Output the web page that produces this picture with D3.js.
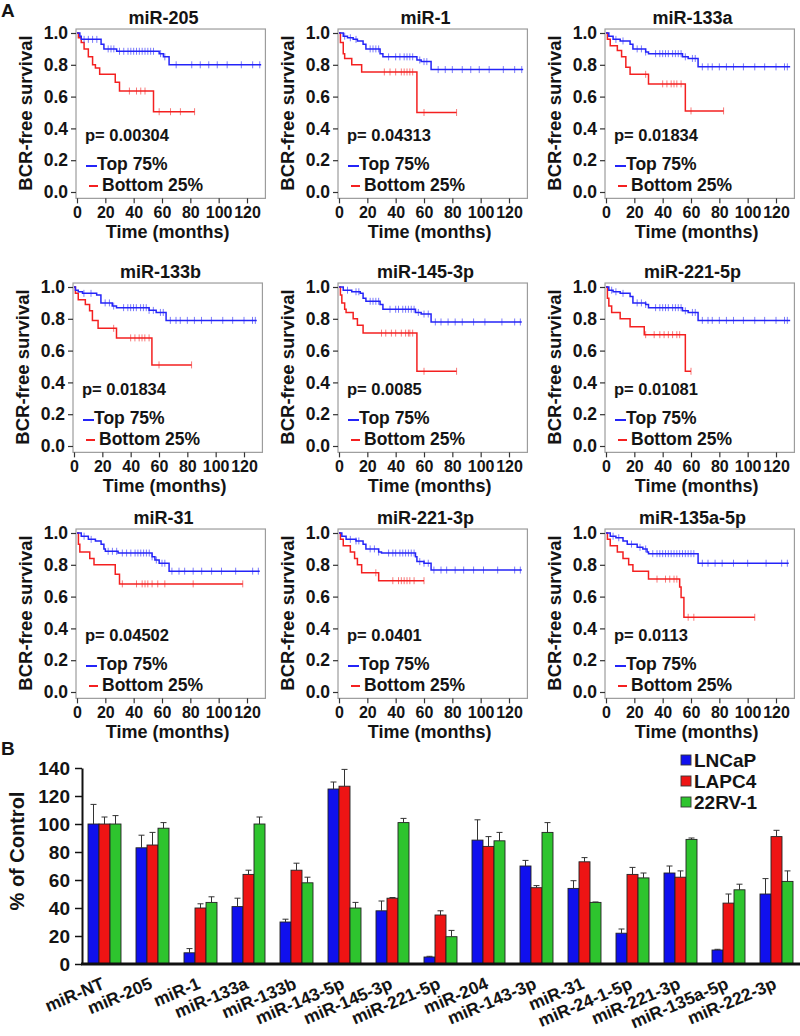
<!DOCTYPE html>
<html><head><meta charset="utf-8">
<script src="https://cdn.jsdelivr.net/npm/d3@7"></script>
<style>
body{margin:0;background:#fff}
text{font-family:"Liberation Sans",Arial,Helvetica,sans-serif;font-weight:bold;fill:#141414}
</style>
</head><body>
<svg id="chart" width="800" height="1036"></svg>
<script>
// ---------- Panel A data ----------
const kmTitles = ["miR-205","miR-1","miR-133a","miR-133b","miR-145-3p","miR-221-5p","miR-31","miR-221-3p","miR-135a-5p"];
const pValues = ["0.00304","0.04313","0.01834","0.01834","0.0085","0.01081","0.04502","0.0401","0.0113"];
const timeTicks = [0,20,40,60,80,100,120];
const survTicks = [0,0.2,0.4,0.6,0.8,1.0];

// step curves: [time, survival after step]; censor times
const top205 = [[0,1],[2,0.98],[3,0.96],[17,0.93],[19,0.90],[28,0.885],[58,0.87],[61,0.85],[65,0.80],[130,0.80]];
const topCens205 = [5,8,11,14,22,24,26,30,33,36,38,40,42,44,46,48,50,52,54,59,62,70,81,87,93,99,106,116,124,129];
const bot205 = [[0,1],[1,0.97],[3,0.94],[5,0.90],[8,0.85],[11,0.80],[13,0.78],[16,0.74],[27,0.69],[30,0.635],[54,0.505],[83,0.505]];
const botCens205 = [37,42,45,48,58,66,73,83];

const top1 = [[0,1],[3,0.98],[6,0.97],[10,0.96],[13,0.95],[17,0.93],[19,0.90],[29,0.87],[31,0.85],[55,0.83],[58,0.82],[65,0.77],[130,0.77]];
const topCens1 = [4,8,12,22,24,26,28,35,40,43,46,48,50,52,57,60,62,70,75,80,87,93,99,106,116,124,129];
const bot1 = [[0,1],[1,0.94],[3,0.87],[4,0.84],[9,0.80],[16,0.755],[55,0.50],[83,0.50]];
const botCens1 = [32,36,40,44,46,48,50,52,60,83];

const top133a = [[0,1],[2,0.98],[5,0.96],[10,0.95],[17,0.93],[19,0.90],[28,0.88],[30,0.87],[54,0.85],[58,0.84],[65,0.787],[130,0.787]];
const topCens133a = [7,12,22,25,28,35,38,40,42,44,47,49,51,53,56,61,63,68,72,75,80,85,90,97,105,112,120,126,128];
const bot133a = [[0,1],[1,0.96],[3,0.92],[8,0.89],[11,0.85],[14,0.785],[17,0.74],[30,0.68],[56,0.51],[83,0.51]];
const botCens133a = [28,40,43,46,48,50,53,60,83];

const top133b = [[0,1],[1,0.98],[3,0.97],[6,0.96],[16,0.95],[19,0.90],[27,0.88],[30,0.87],[53,0.853],[58,0.84],[65,0.79],[129,0.79]];
const topCens133b = [7,12,22,25,28,35,38,40,42,44,47,49,51,53,56,61,63,68,72,75,80,85,90,97,105,112,120,126,128];
const bot133b = [[0,1],[1,0.96],[3,0.92],[8,0.89],[11,0.85],[13,0.79],[17,0.74],[30,0.68],[55,0.51],[83,0.51]];
const botCens133b = [28,40,43,46,48,50,53,60,83];

const top145 = [[0,1],[3,0.98],[9,0.97],[15,0.96],[17,0.93],[19,0.91],[29,0.89],[31,0.86],[54,0.84],[58,0.83],[65,0.78],[129,0.78]];
const topCens145 = [6,12,14,22,24,26,28,36,40,42,45,47,49,51,53,56,60,63,68,72,77,82,87,95,103,115,124,128];
const bot145 = [[0,1],[1,0.95],[2,0.90],[4,0.86],[5,0.84],[10,0.80],[13,0.76],[17,0.71],[55,0.47],[83,0.47]];
const botCens145 = [30,33,37,40,44,47,49,50,52,60,83];

const top221_5p = [[0,1],[2,0.98],[5,0.97],[10,0.96],[17,0.94],[19,0.90],[28,0.89],[30,0.87],[54,0.85],[58,0.84],[65,0.79],[130,0.79]];
const topCens221_5p = [4,7,12,22,25,28,35,38,40,42,44,47,49,51,53,56,61,63,68,72,75,80,85,90,97,105,112,120,126,128];
const bot221_5p = [[0,1],[1,0.93],[2,0.88],[4,0.84],[10,0.80],[17,0.75],[27,0.70],[56,0.47],[60,0.47]];
const botCens221_5p = [28,34,38,41,44,47,50,52,60];

const top31 = [[0,1],[3,0.98],[8,0.96],[13,0.95],[17,0.93],[19,0.90],[20,0.885],[29,0.874],[53,0.85],[55,0.83],[58,0.81],[65,0.76],[129,0.76]];
const topCens31 = [5,10,22,25,28,32,35,38,41,43,45,47,49,51,53,56,60,62,67,72,76,82,88,95,102,112,124,128];
const bot31 = [[0,1],[1,0.93],[2,0.88],[9,0.84],[12,0.80],[27,0.74],[30,0.68],[117,0.68]];
const botCens31 = [32,42,46,48,50,53,57,62,82,117];

const top221_3p = [[0,1],[2,0.98],[5,0.96],[12,0.95],[17,0.93],[19,0.90],[28,0.88],[30,0.874],[54,0.85],[55,0.82],[60,0.81],[65,0.767],[129,0.767]];
const topCens221_3p = [8,12,14,22,25,28,35,38,40,43,45,47,49,51,53,57,60,63,67,72,76,82,88,95,102,112,124,128];
const bot221_3p = [[0,1],[1,0.96],[3,0.92],[8,0.88],[11,0.84],[13,0.80],[16,0.75],[28,0.70],[60,0.70]];
const botCens221_3p = [26,38,42,44,46,48,50,53,60];

const top135 = [[0,1],[3,0.98],[7,0.97],[12,0.95],[15,0.93],[22,0.91],[26,0.90],[29,0.88],[30,0.87],[65,0.81],[129,0.81]];
const topCens135 = [5,9,18,24,28,33,36,38,40,42,44,46,48,50,52,54,56,58,60,62,68,72,77,82,90,100,113,124,128];
const bot135 = [[0,1],[1,0.96],[3,0.92],[8,0.88],[12,0.84],[16,0.80],[19,0.76],[30,0.71],[52,0.66],[53,0.595],[55,0.47],[105,0.47]];
const botCens135 = [36,42,45,48,50,58,62,105];

const topCurves = [top205,top1,top133a,top133b,top145,top221_5p,top31,top221_3p,top135];
const topCensors = [topCens205,topCens1,topCens133a,topCens133b,topCens145,topCens221_5p,topCens31,topCens221_3p,topCens135];
const botCurves = [bot205,bot1,bot133a,bot133b,bot145,bot221_5p,bot31,bot221_3p,bot135];
const botCensors = [botCens205,botCens1,botCens133a,botCens133b,botCens145,botCens221_5p,botCens31,botCens221_3p,botCens135];
const groupNames = ["Top 75%","Bottom 25%"];

// ---------- Panel B data ----------
const mirs = ["miR-NT","miR-205","miR-1","miR-133a","miR-133b","miR-143-5p","miR-145-3p","miR-221-5p","miR-204","miR-143-3p","miR-31","miR-24-1-5p","miR-221-3p","miR-135a-5p","miR-222-3p"];
const cellLines = ["LNCaP","LAPC4","22RV-1"];
const lncap    = [100,83,8,41,30,125,38,5,88.5,70,54,22,65,10,50];
const lncapErr = [14,9,3,6,2,5,7,0.5,14.5,4,5.5,3,5,0.5,11];
const lapc4    = [100,85,40,64,67,127,47,35,84,54.5,73,64,62,43.5,91];
const lapc4Err = [5,9,3,3,5,12,0.5,3,7,1.5,3,5,4.5,6.5,4.5];
const rv1      = [100,97,44,100,58,40,101,19.5,88,94,44,61.5,89,53,59];
const rv1Err   = [6,4,4,5,4,4,3,4.5,6,7,0.3,3.5,1,4,7.5];
const pctTicks = [0,20,40,60,80,100,120,140];

// ---------- drawing ----------
const svg = d3.select("#chart");
const BLUE = "#2424f8", RED = "#f42020";
const colX = [77, 339, 606];
const rowY = [33, 287, 533];

svg.append("text").attr("x",1).attr("y",17).style("font-size","19px").text("A");
svg.append("text").attr("x",1).attr("y",755).style("font-size","19px").text("B");

function survAt(steps, t){
  let s = steps[0][1];
  for (const [tt, ss] of steps){ if (tt <= t) s = ss; }
  return s;
}

kmTitles.forEach((title, i) => {
  const col = i % 3, row = Math.floor(i / 3);
  const x0 = colX[col] + (i === 3 ? -3 : 0);
  const y1 = rowY[row];
  const x = d3.scaleLinear().domain([0,120]).range([x0, x0 + 170]);
  const y = d3.scaleLinear().domain([0,1]).range([y1 + 159, y1]);
  const g = svg.append("g");

  const bx = x(-0.7), by = y(1.025), bw = x(133) - bx, bh = y(-0.04) - by;
  g.append("rect").attr("x",bx).attr("y",by).attr("width",bw).attr("height",bh)
    .attr("fill","none").attr("stroke","#9c9c9c").attr("stroke-width",1.2);

  const ya = g.append("g").attr("transform",`translate(${bx},0)`)
    .call(d3.axisLeft(y).tickValues(survTicks).tickFormat(d3.format(".1f")).tickSize(5).tickPadding(3));
  ya.select(".domain").remove();
  ya.selectAll("line").attr("stroke","#333").attr("stroke-width",1.2);
  ya.selectAll("text").style("font-size","17.5px").attr("fill","#141414");

  const xa = g.append("g").attr("transform",`translate(0,${by+bh})`)
    .call(d3.axisBottom(x).tickValues(timeTicks).tickSize(5).tickPadding(3));
  xa.select(".domain").remove();
  xa.selectAll("line").attr("stroke","#333").attr("stroke-width",1.2);
  xa.selectAll("text").style("font-size","16px").attr("fill","#141414");

  g.append("text").attr("x",x(61)).attr("y",y1-9).attr("text-anchor","middle")
    .style("font-size","18px").text(title);
  g.append("text").attr("x",x(64)).attr("y",y1+205).attr("text-anchor","middle")
    .style("font-size","18px").text("Time (months)");
  g.append("text").attr("transform",`translate(${x0-51},${y1+80}) rotate(-90)`)
    .attr("text-anchor","middle").attr("dy","0.35em").style("font-size","18.5px").text("BCR-free survival");

  const line = d3.line().x(d => x(d[0])).y(d => y(d[1])).curve(d3.curveStepAfter);
  [[botCurves[i], botCensors[i], RED], [topCurves[i], topCensors[i], BLUE]].forEach(([steps, cens, colr]) => {
    g.append("path").attr("d", line(steps)).attr("fill","none").attr("stroke",colr).attr("stroke-width",1.5);
    g.selectAll(null).data(cens).enter().append("line")
      .attr("x1", d => x(d)).attr("x2", d => x(d))
      .attr("y1", d => y(survAt(steps, d)) - 3.5).attr("y2", d => y(survAt(steps, d)) + 3.5)
      .attr("stroke", colr).attr("stroke-opacity",0.6).attr("stroke-width",1);
  });

  g.append("text").attr("x",x0+8).attr("y",y1+108).style("font-size","16.5px").text("p= " + pValues[i]);
  g.append("line").attr("x1",x0+9).attr("x2",x0+20).attr("y1",y1+133).attr("y2",y1+133)
    .attr("stroke",BLUE).attr("stroke-width",2);
  g.append("text").attr("x",x0+20).attr("y",y1+137).style("font-size","17.5px").text(groupNames[0]);
  g.append("line").attr("x1",x0+12).attr("x2",x0+21).attr("y1",y1+153).attr("y2",y1+153)
    .attr("stroke",RED).attr("stroke-width",2);
  g.append("text").attr("x",x0+25).attr("y",y1+158).style("font-size","17.5px").text(groupNames[1]);
});

// ---------- Panel B ----------
const barColors = ["#1010ee","#ee1414","#2ec42e"];
const series = [[lncap,lncapErr],[lapc4,lapc4Err],[rv1,rv1Err]];
const yb = d3.scaleLinear().domain([0,140]).range([964,768]);
const xb = d3.scaleBand().domain(mirs).range([82,799]).paddingInner(0.3125).paddingOuter(0.125);
const xs = d3.scaleBand().domain(cellLines).range([0, xb.bandwidth()]);
const gb = svg.append("g");

mirs.forEach((m, j) => {
  series.forEach(([vals, errs], k) => {
    const bx = xb(m) + xs(cellLines[k]);
    const v = vals[j], e = errs[j];
    gb.append("rect").attr("x",bx).attr("y",yb(v)).attr("width",xs.bandwidth()).attr("height",yb(0)-yb(v))
      .attr("fill",barColors[k]).attr("stroke","#222").attr("stroke-width",0.9);
    const cx = bx + xs.bandwidth()/2;
    gb.append("line").attr("x1",cx).attr("x2",cx).attr("y1",yb(v)).attr("y2",yb(v+e)).attr("stroke","#333").attr("stroke-width",1);
    gb.append("line").attr("x1",cx-3).attr("x2",cx+3).attr("y1",yb(v+e)).attr("y2",yb(v+e)).attr("stroke","#333").attr("stroke-width",1);
  });
});

const yax = gb.append("g").attr("transform","translate(82,0)")
  .call(d3.axisLeft(yb).tickValues(pctTicks).tickSize(7).tickPadding(5).tickSizeOuter(0));
yax.select(".domain").attr("stroke","#111").attr("stroke-width",2);
yax.selectAll("line").attr("stroke","#111").attr("stroke-width",1.5);
yax.selectAll("text").style("font-size","19px").attr("fill","#141414");
gb.append("line").attr("x1",81).attr("x2",800).attr("y1",yb(0)).attr("y2",yb(0)).attr("stroke","#111").attr("stroke-width",3);

gb.append("text").attr("transform","translate(17,851) rotate(-90)").attr("text-anchor","middle")
  .attr("dy","0.35em").style("font-size","20px").text("% of Control");

mirs.forEach(m => {
  const cx = xb(m) + xb.bandwidth()/2;
  gb.append("text").attr("transform",`translate(${cx+1},988) rotate(-23)`).attr("text-anchor","end")
    .style("font-size","17.5px").text(m);
});

cellLines.forEach((c, k) => {
  const ly = 760 + k*21;
  gb.append("rect").attr("x",681).attr("y",ly-5).attr("width",10).attr("height",10)
    .attr("fill",barColors[k]).attr("stroke","#333").attr("stroke-width",0.9);
  gb.append("text").attr("x",694).attr("y",ly).attr("dy","0.36em").style("font-size","19px").text(c);
});
</script>
</body></html>
